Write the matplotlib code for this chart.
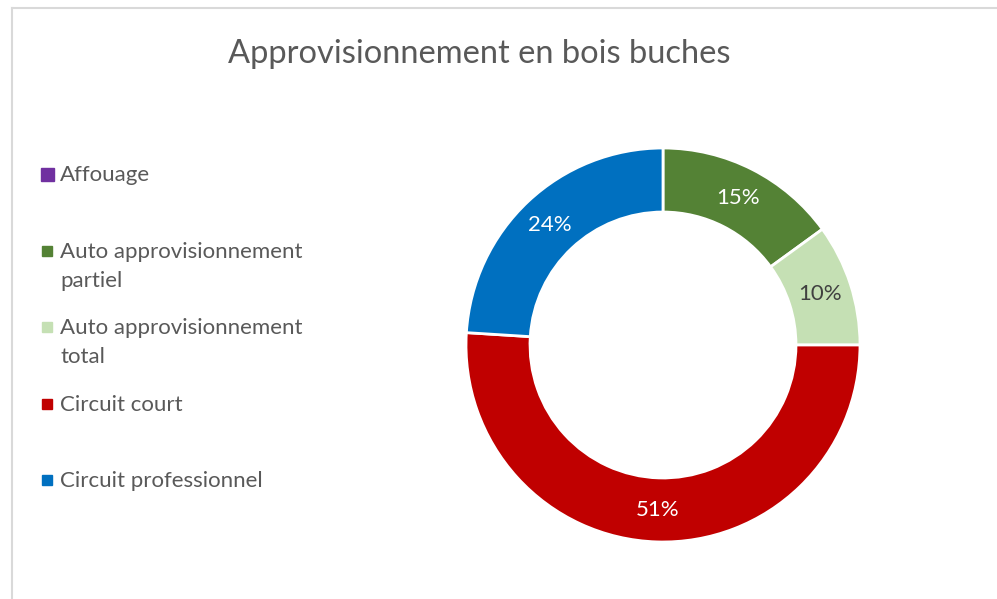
import numpy as np
import matplotlib.pyplot as plt
from matplotlib.lines import Line2D
from matplotlib.patches import Rectangle

categories = ['Affouage', 'Auto approvisionnement\npartiel', 'Auto approvisionnement\ntotal',
              'Circuit court', 'Circuit professionnel']
values = [0, 15, 10, 51, 24]
colors = ['#7030A0', '#548235', '#C5E0B4', '#C00000', '#0070C0']
label_colors = ['white', 'white', '#404040', 'white', 'white']
title = 'Approvisionnement en bois buches'

plt.rcParams['font.family'] = ['Lato', 'DejaVu Sans']

W, H = 997, 599
fig = plt.figure(figsize=(W / 100, H / 100), dpi=100)

# chart area border (only top and left visible in the crop)
fig.add_artist(Line2D([12 / W, 12 / W], [0, 1 - 8 / H], color='#D9D9D9', lw=1.5))
fig.add_artist(Line2D([12 / W, 1], [1 - 8 / H, 1 - 8 / H], color='#D9D9D9', lw=1.5))

# donut
cx, cy, r = 663, 345, 197
ax = fig.add_axes([(cx - r) / W, (H - cy - r) / H, 2 * r / W, 2 * r / H])
ring = 0.325
wedges, _ = ax.pie(values, colors=colors, startangle=90, counterclock=False,
                   radius=1, wedgeprops=dict(width=ring, edgecolor='white', linewidth=2))
ax.set_xlim(-1, 1)
ax.set_ylim(-1, 1)
ax.set_aspect('equal')
ax.axis('off')

total = sum(values)
cum = 0
for v, lc in zip(values, label_colors):
    if v > 0:
        mid = (cum + v / 2) / total
        ang = np.deg2rad(90 - 360 * mid)
        rr = 1 - ring / 2
        ax.text(rr * np.cos(ang), rr * np.sin(ang), f'{v}%', ha='center', va='center',
                color=lc, fontsize=16)
    cum += v

fig.text(479 / W, 1 - 63 / H, title, ha='center', va='baseline', fontsize=23.5, color='#595959')

# legend
leg_base = [181, 258, 334, 411, 487]
for k, (name, c, y) in enumerate(zip(categories, colors, leg_base)):
    s = 13 if k == 0 else 10
    fig.add_artist(Rectangle(((47 - s / 2) / W, 1 - (y - 7 + s / 2) / H), s / W, s / H, color=c))
    for i, line in enumerate(name.split('\n')):
        fig.text(60 / W, 1 - (y + 29 * i) / H, line, ha='left', va='baseline',
                 fontsize=16, color='#595959')

fig.savefig('out.png', dpi=100)
